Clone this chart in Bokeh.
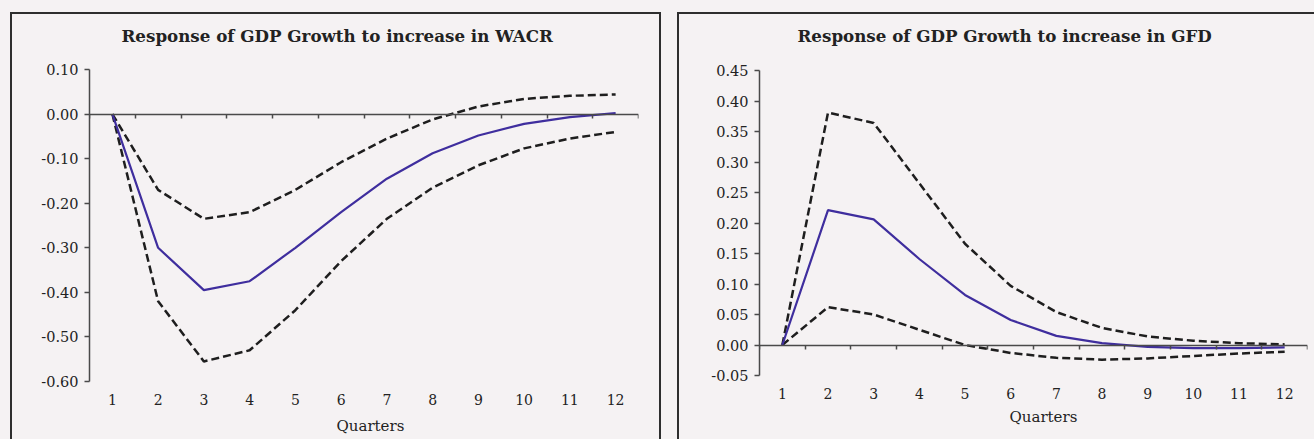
from bokeh.plotting import figure
from bokeh.layouts import row, column
from bokeh.models import LinearAxis, FixedTicker, NumeralTickFormatter, Range1d, Title
from bokeh.embed import file_html
from bokeh.resources import INLINE

# ---------------- data ----------------
quarters = [1, 2, 3, 4, 5, 6, 7, 8, 9, 10, 11, 12]

wacr_response = [0.0, -0.30, -0.395, -0.375, -0.30, -0.22, -0.145, -0.088, -0.048, -0.022, -0.007, 0.002]
wacr_upper = [0.0, -0.17, -0.235, -0.22, -0.17, -0.108, -0.055, -0.012, 0.017, 0.034, 0.041, 0.044]
wacr_lower = [0.0, -0.42, -0.555, -0.53, -0.44, -0.33, -0.235, -0.165, -0.115, -0.077, -0.055, -0.04]
wacr_yticks = [0.10, 0.0, -0.10, -0.20, -0.30, -0.40, -0.50, -0.60]

gfd_response = [0.0, 0.221, 0.206, 0.141, 0.082, 0.041, 0.015, 0.003, -0.003, -0.005, -0.005, -0.004]
gfd_upper = [0.0, 0.381, 0.364, 0.265, 0.166, 0.097, 0.054, 0.028, 0.014, 0.007, 0.003, 0.001]
gfd_lower = [0.0, 0.062, 0.05, 0.025, 0.0, -0.013, -0.021, -0.024, -0.022, -0.018, -0.014, -0.011]
gfd_yticks = [0.45, 0.40, 0.35, 0.30, 0.25, 0.20, 0.15, 0.10, 0.05, 0.0, -0.05]

titles = ["Response of GDP Growth to increase in WACR",
          "Response of GDP Growth to increase in GFD"]
x_label = "Quarters"

# ---------------- style ----------------
BG = "#f5f2f3"
TXT = "#222222"
AX = "#4a4a4a"
BLUE = "#3f2e9e"
DASH = "#1e1e1e"
FONT = "DejaVu Serif"


def make_panel(title, mid, up, lo, yticks, width, height, mb, margin, styles,
               title_offset, top_gap, q_offset, q_standoff):
    p = figure(width=width, height=height, output_backend="svg", toolbar_location=None,
               x_range=Range1d(0.5, 12.5), y_range=Range1d(min(yticks), max(yticks)),
               min_border_left=mb[0], min_border_right=mb[1], min_border_top=mb[2],
               min_border_bottom=mb[3], margin=margin, styles=styles)
    p.background_fill_color = BG
    p.border_fill_color = BG
    p.outline_line_color = None
    p.grid.visible = False

    # category labels axis (the default axis below)
    xa = p.below[0]
    ya = p.left[0]
    xa.ticker = FixedTicker(ticks=quarters)
    xa.axis_line_color = None
    xa.major_tick_line_color = None
    xa.minor_tick_line_color = None
    xa.major_tick_out = 0
    xa.major_tick_in = 0
    xa.major_label_standoff = 12
    xa.major_label_text_font = FONT
    xa.major_label_text_font_size = "14px"
    xa.major_label_text_color = TXT

    # invisible spacer between title and frame (background-coloured tick)
    sp = LinearAxis(ticker=FixedTicker(ticks=[quarters[0] - 0.5]))
    sp.axis_line_color = None
    sp.major_tick_line_color = BG
    sp.minor_tick_line_color = None
    sp.major_tick_in = 0
    sp.major_tick_out = top_gap
    sp.minor_tick_out = 0
    sp.major_label_standoff = 0
    sp.major_label_text_color = None
    p.add_layout(sp, "above")

    p.title.text = title
    p.title.align = "left"
    p.title.text_font = FONT
    p.title.text_font_size = "16.7px"
    p.title.text_font_style = "bold"
    p.title.text_color = TXT
    p.title.offset = title_offset
    p.title.standoff = 4

    # zero line axis with category-boundary ticks
    bounds = [q - 0.5 for q in quarters] + [quarters[-1] + 0.5]
    za = LinearAxis(fixed_location=0, ticker=FixedTicker(ticks=bounds))
    za.major_label_text_color = None
    za.axis_line_color = AX
    za.axis_line_width = 1.5
    za.major_tick_line_color = AX
    za.major_tick_line_width = 1.5
    za.major_tick_in = 0
    za.major_tick_out = 4
    za.minor_tick_line_color = None
    p.add_layout(za, "below")

    # "Quarters" axis title
    p.add_layout(Title(text=x_label, align="left", offset=q_offset, standoff=q_standoff,
                       text_font=FONT, text_font_size="15px", text_font_style="normal",
                       text_color=TXT), "below")

    ya.ticker = FixedTicker(ticks=yticks)
    ya.formatter = NumeralTickFormatter(format="0.00")
    ya.axis_line_color = AX
    ya.axis_line_width = 1.5
    ya.major_tick_line_color = AX
    ya.major_tick_line_width = 1.5
    ya.major_tick_in = 0
    ya.major_tick_out = 5
    ya.minor_tick_line_color = None
    ya.major_label_standoff = 6
    ya.major_label_text_font = FONT
    ya.major_label_text_font_size = "14.5px"
    ya.major_label_text_color = TXT

    p.line(quarters, up, line_color=DASH, line_width=2.5, line_dash="8 4")
    p.line(quarters, lo, line_color=DASH, line_width=2.5, line_dash="8 4")
    p.line(quarters, mid, line_color=BLUE, line_width=2.2)
    return p


border = "2px solid #2e2e2e"
p1 = make_panel(titles[0], wacr_response, wacr_upper, wacr_lower, wacr_yticks,
                width=651, height=462, mb=(77, 25, 55, 95), margin=(12, 0, 0, 10),
                styles={"border-top": border, "border-left": border, "border-right": border},
                title_offset=32, top_gap=22, q_offset=247, q_standoff=14)
p2 = make_panel(titles[1], gfd_response, gfd_upper, gfd_lower, gfd_yticks,
                width=637, height=462, mb=(80, 9, 56, 101), margin=(12, 0, 0, 16),
                styles={"border-top": border, "border-left": border},
                title_offset=38, top_gap=23, q_offset=250, q_standoff=8)

layout = row(column(p1), column(p2), styles={"background-color": BG})

html = file_html(layout, INLINE)
html = html.replace("<body>", '<body style="background-color: %s; overflow: hidden;">' % BG, 1)
open("out.html", "w").write(html)
